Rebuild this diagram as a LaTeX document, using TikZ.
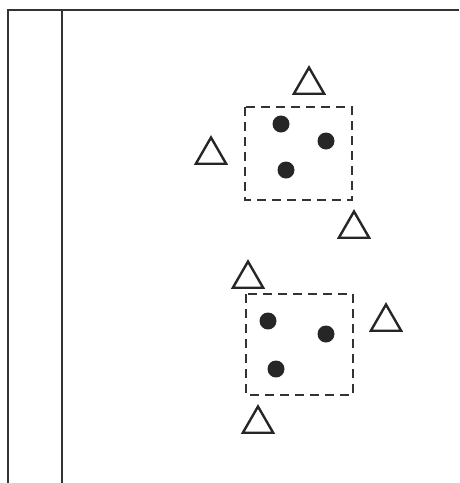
\documentclass[tikz,border=0pt]{standalone}
\usetikzlibrary{shapes.geometric}
\begin{document}
\begin{tikzpicture}[x=1pt,y=-1pt,
  frame/.style={line width=2.1pt,draw=black!80},
  group/.style={line width=2pt,draw=black!80,dash pattern=on 9pt off 6pt},
  tri/.style={regular polygon,regular polygon sides=3,draw=black!85,line width=2.4pt,minimum size=35pt,inner sep=0pt},
  dot/.style={circle,fill=black!85,minimum size=17pt,inner sep=0pt}]
\useasboundingbox (0,0) rectangle (459,483);
\coordinate (tl) at (8,10);
\coordinate (tr) at (459,10);
\coordinate (bl) at (8,483);
\coordinate (mt) at (62,10);
\coordinate (mb) at (62,483);
\draw[frame] (tr) -- (tl) -- (bl);
\draw[frame] (mt) -- (mb);
% upper group
\coordinate (b1a) at (245,107);
\coordinate (b1b) at (352,200);
\draw[group] (b1a) rectangle (b1b);
\node[dot] (d1) at (281,124) {};
\node[dot] (d2) at (326,141) {};
\node[dot] (d3) at (286,170) {};
\node[tri] (t1) at (309,85) {};
\node[tri] (t2) at (211,155) {};
\node[tri] (t3) at (354,229) {};
% lower group
\coordinate (b2a) at (246,294);
\coordinate (b2b) at (353,395);
\draw[group] (b2a) rectangle (b2b);
\node[dot] (d4) at (268,321) {};
\node[dot] (d5) at (326,334) {};
\node[dot] (d6) at (276,369) {};
\node[tri] (t4) at (248,279) {};
\node[tri] (t5) at (386,322) {};
\node[tri] (t6) at (258,424) {};
\end{tikzpicture}
\end{document}
